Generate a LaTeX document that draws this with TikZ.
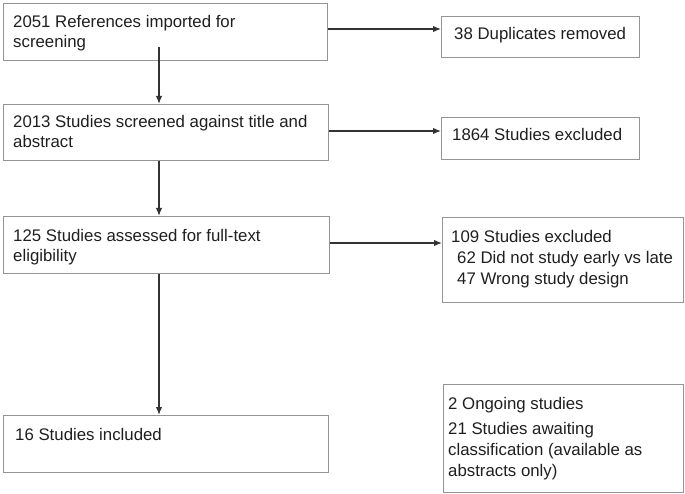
\documentclass[tikz,border=0pt]{standalone}
\usepackage{fontspec}
\setmainfont{Liberation Sans}
\usetikzlibrary{arrows.meta}
\begin{document}
\begin{tikzpicture}[x=1pt,y=-1pt,
 box/.style={draw=black!42, line width=1.3pt, inner sep=0pt, anchor=north west},
 txt/.style={anchor=north west, inner sep=0pt, align=left, font=\fontsize{16.8}{20.5}\selectfont, text=black!88},
 arr/.style={draw=black!80, line width=1.4pt, -{Latex[length=8pt,width=6.5pt]}}]
\useasboundingbox (0,0) rectangle (685,494);
% left column boxes
\node[box, minimum width=324pt, minimum height=57pt] (b1) at (3,3) {};
\node[box, minimum width=325pt, minimum height=56pt] (b2) at (3,104) {};
\node[box, minimum width=326pt, minimum height=57pt] (b3) at (3,216) {};
\node[box, minimum width=325pt, minimum height=57pt] (b4) at (3,415) {};
% right column boxes
\node[box, minimum width=198pt, minimum height=41pt] (r1) at (441,16) {};
\node[box, minimum width=198pt, minimum height=42pt] (r2) at (441,117) {};
\node[box, minimum width=241pt, minimum height=85pt] (r3) at (442,217) {};
\node[box, minimum width=240pt, minimum height=108pt] (r4) at (443,384) {};
% texts
\node[txt] (t1) at (13,15) {2051 References imported for\\screening};
\node[txt] (t2) at (13,115) {2013 Studies screened against title and\\abstract};
\node[txt] (t3) at (13,229) {125 Studies assessed for full-text\\eligibility};
\node[txt] (t4) at (15,428) {16 Studies included};
\node[txt] (s1) at (454,27) {38 Duplicates removed};
\node[txt] (s2) at (452,128) {1864 Studies excluded};
\node[txt] (s3) at (451,230) {109 Studies excluded\\[0.5pt]\hspace*{6pt}62 Did not study early vs late\\[0.5pt]\hspace*{6pt}47 Wrong study design};
\node[txt] (s4) at (448,397) {2 Ongoing studies\\[4.5pt]21 Studies awaiting\\[0.5pt]classification (available as\\[0.5pt]abstracts only)};
% connectors
\coordinate (v1) at (159,47);
\coordinate (v2) at (159,0);
\draw[arr] (v1) -- (v1 |- b2.north);
\draw[arr] (b2.south -| v2) -- (b3.north -| v2);
\draw[arr] (b3.south -| v2) -- (b4.north -| v2);
\coordinate (h1) at (0,29);
\coordinate (h2) at (0,131);
\coordinate (h3) at (0,243);
\draw[arr] (b1.east |- h1) -- (r1.west |- h1);
\draw[arr] (b2.east |- h2) -- (r2.west |- h2);
\draw[arr] (b3.east |- h3) -- (r3.west |- h3);
\end{tikzpicture}
\end{document}
